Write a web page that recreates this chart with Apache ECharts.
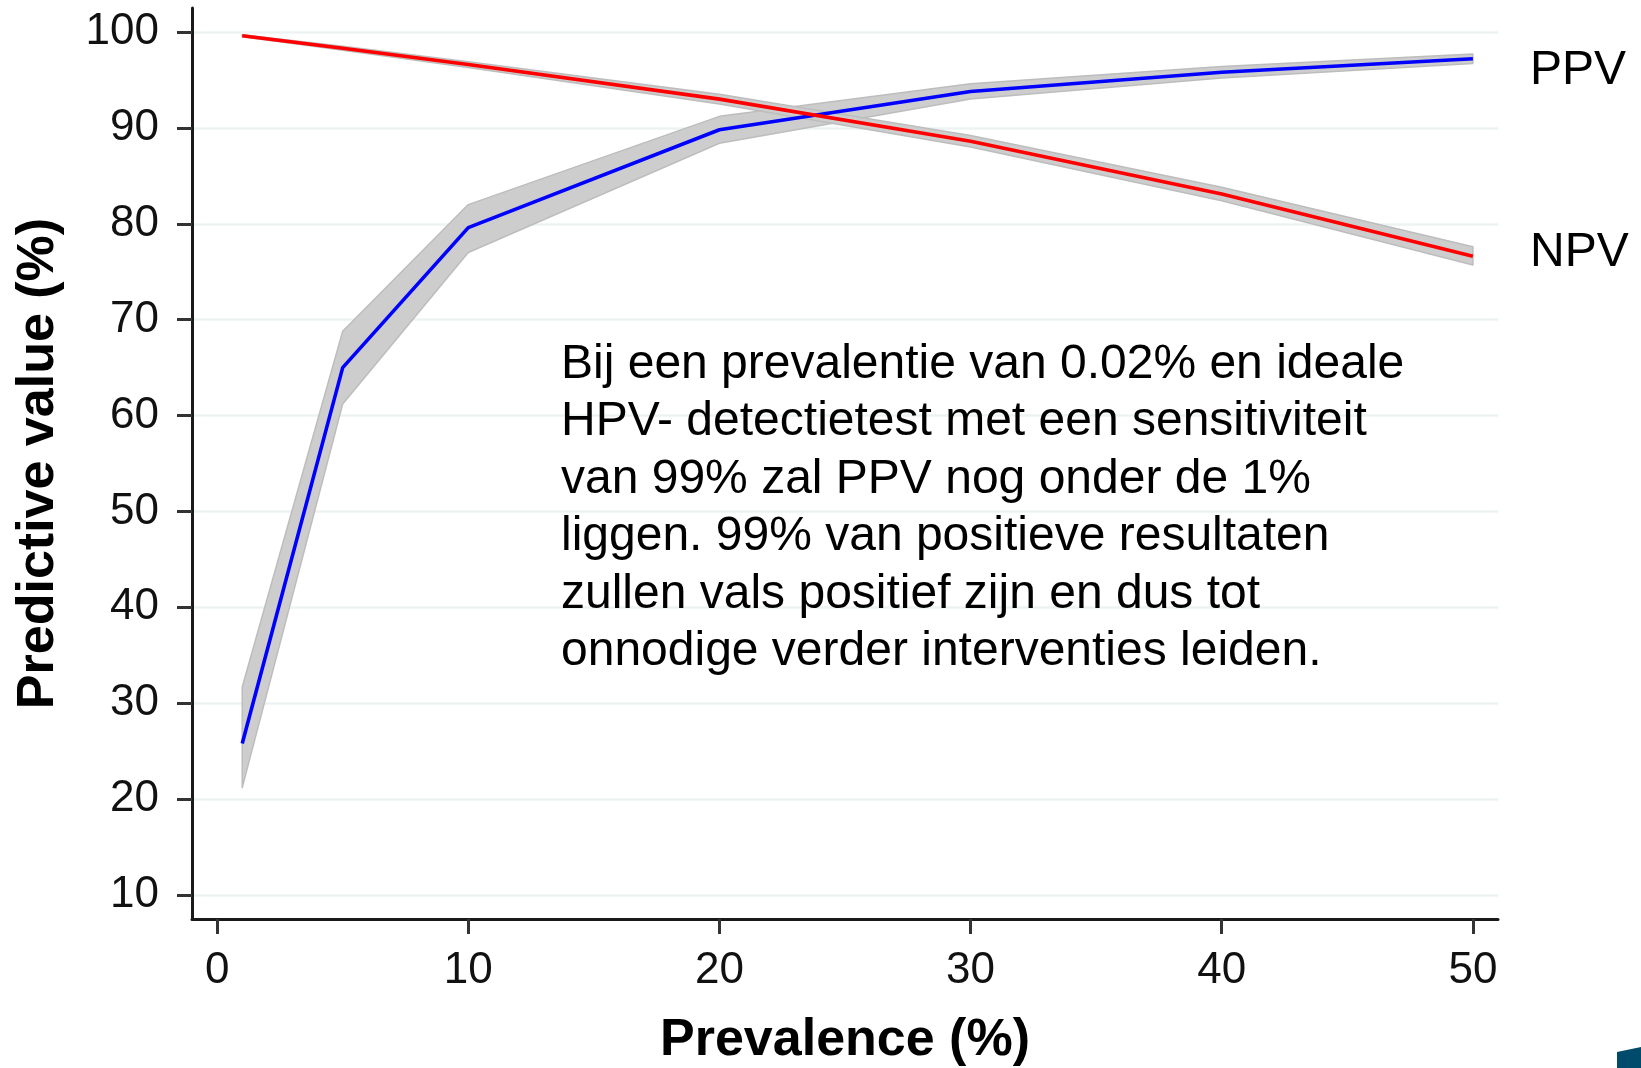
<!DOCTYPE html>
<html>
<head>
<meta charset="utf-8">
<script src="https://cdn.jsdelivr.net/npm/echarts@6/dist/echarts.min.js"></script>
<style>
html,body{margin:0;padding:0;background:#fff;}
#chart{width:1641px;height:1068px;}
</style>
</head>
<body>
<div id="chart"></div>
<script>
// ---- data ----
const prevalence = [1, 5, 10, 20, 30, 40, 50];
const ppv      = [25.8, 65.0, 79.6, 89.8, 93.8, 95.8, 97.2];
const ppvLower = [21.2, 61.2, 77.0, 88.4, 93.0, 95.2, 96.7];
const ppvUpper = [31.7, 68.8, 82.0, 91.2, 94.6, 96.4, 97.7];
const npv      = [99.6, 98.3, 96.6, 93.0, 88.6, 83.1, 76.6];
const npvLower = [99.5, 98.1, 96.3, 92.5, 88.0, 82.4, 75.7];
const npvUpper = [99.7, 98.5, 96.9, 93.5, 89.2, 83.8, 77.6];
const yTicks = [10, 20, 30, 40, 50, 60, 70, 80, 90, 100];
const xTicks = [0, 10, 20, 30, 40, 50];
const xTitle = 'Prevalence (%)';
const yTitle = 'Predictive value (%)';
const seriesLabels = ['PPV', 'NPV'];
const noteLines = [
  'Bij een prevalentie van 0.02% en ideale',
  'HPV- detectietest met een sensitiviteit',
  'van 99% zal PPV nog onder de 1%',
  'liggen. 99% van positieve resultaten',
  'zullen vals positief zijn en dus tot',
  'onnodige verder interventies leiden.'
];

const FONT = '"Liberation Sans", Arial, Helvetica, sans-serif';
const pairs = (xs, ys) => xs.map((x, i) => [x, ys[i]]);

const bandFill = '#cdcdcd';
const bandEdge = '#bdbdbd';

// confidence band drawn as one polygon through the chart's own coordinate system
function bandSeries(name, lo, hi) {
  const rows = prevalence.map((x, i) => [x, lo[i], hi[i]]);
  return {
    name: name, type: 'custom', silent: true, z: 2,
    data: rows,
    encode: { x: 0, y: [1, 2] },
    renderItem: function (params, api) {
      if (params.dataIndex !== 0) return null;
      const upperPts = rows.map(r => api.coord([r[0], r[2]]));
      const lowerPts = rows.map(r => api.coord([r[0], r[1]])).reverse();
      return {
        type: 'polygon',
        shape: { points: upperPts.concat(lowerPts) },
        style: { fill: bandFill, stroke: bandEdge, lineWidth: 1.5, lineJoin: 'round' }
      };
    }
  };
}

const chart = echarts.init(document.getElementById('chart'), null, { renderer: 'canvas' });

const axisCommon = {
  type: 'value',
  axisLine: { show: true, onZero: false, lineStyle: { color: '#1a1a1a', width: 3 } },
  axisTick: { show: true, length: 15, lineStyle: { color: '#333', width: 3 } },
  axisLabel: { color: '#111', fontSize: 44, fontFamily: FONT },
  nameLocation: 'middle',
  nameTextStyle: { fontSize: 52, fontWeight: 'bold', color: '#000', fontFamily: FONT }
};

chart.setOption({
  animation: false,
  backgroundColor: '#ffffff',
  grid: { left: 192, right: 143, top: 8, bottom: 149, containLabel: false, outerBoundsMode: 'none' },
  xAxis: Object.assign({}, axisCommon, {
    min: -1, max: 51,
    name: xTitle, nameGap: 96,
    axisTick: Object.assign({}, axisCommon.axisTick, { customValues: xTicks }),
    axisLabel: Object.assign({}, axisCommon.axisLabel, { customValues: xTicks, margin: 30 }),
    splitLine: { show: false }
  }),
  yAxis: Object.assign({}, axisCommon, {
    min: 7.5, max: 102.5,
    name: yTitle, nameGap: 127,
    axisTick: Object.assign({}, axisCommon.axisTick, { customValues: yTicks }),
    axisLabel: Object.assign({}, axisCommon.axisLabel, { customValues: yTicks, margin: 33 }),
    splitLine: { show: true, lineStyle: { color: '#edf3f3', width: 2.5 } }
  }),
  series: [
    bandSeries('ppvBand', ppvLower, ppvUpper),
    bandSeries('npvBand', npvLower, npvUpper),
    {
      name: seriesLabels[0], type: 'line', data: pairs(prevalence, ppv),
      symbol: 'none', z: 4, lineStyle: { color: '#0000ff', width: 3.6 }
    },
    {
      name: seriesLabels[1], type: 'line', data: pairs(prevalence, npv),
      symbol: 'none', z: 4, lineStyle: { color: '#ff0000', width: 3.6 }
    }
  ],
  graphic: [
    {
      type: 'text', left: 561, top: 336, z: 10,
      style: {
        text: noteLines.join('\n'),
        font: '48px ' + FONT, fill: '#000', lineHeight: 57.5
      }
    },
    {
      type: 'text', x: 1530, y: 71, z: 10,
      style: { text: seriesLabels[0], font: '48px ' + FONT, fill: '#000', verticalAlign: 'middle' }
    },
    {
      type: 'text', x: 1530, y: 253, z: 10,
      style: { text: seriesLabels[1], font: '48px ' + FONT, fill: '#000', verticalAlign: 'middle' }
    },
    {
      type: 'polygon', z: 10,
      shape: { points: [[1617, 1052], [1641, 1047], [1641, 1068], [1617, 1068]] },
      style: { fill: '#004a6b' }
    }
  ]
});
</script>
</body>
</html>
